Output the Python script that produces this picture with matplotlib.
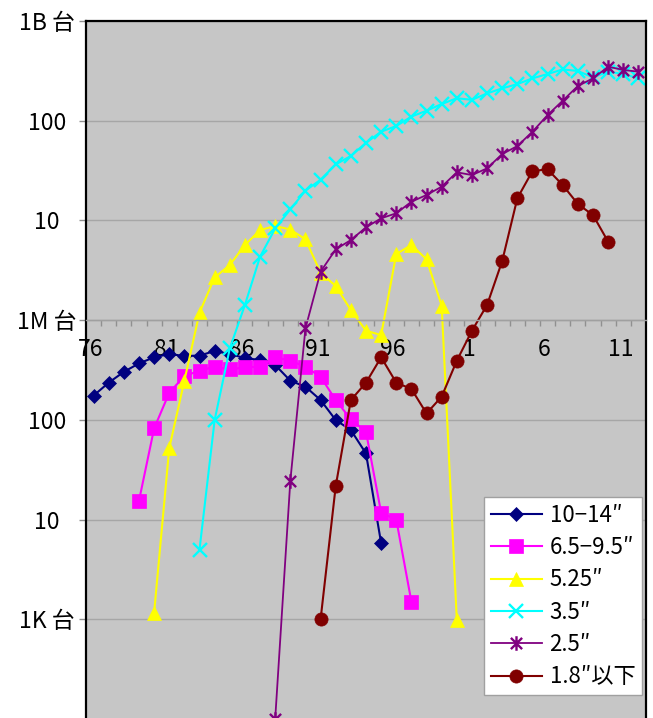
import matplotlib
matplotlib.use("Agg")
import matplotlib.pyplot as plt
import numpy as np
from matplotlib.path import Path

plt.rcParams['font.family'] = ['Noto Sans CJK JP', 'DejaVu Sans']

# ---------------- data ----------------
years = list(range(1976, 2013))           # category axis (37 categories)
xtick_labels = ['76', '81', '86', '91', '96', '1', '6', '11']
xtick_years = [1976, 1981, 1986, 1991, 1996, 2001, 2006, 2011]

ytick_values = [1e3, 1e4, 1e5, 1e6, 1e7, 1e8, 1e9]
ytick_labels = ['1K 台', '10', '100', '1M 台', '10', '100', '1B 台']

s1_start = 1976   # 10-14"
s1 = [175e3, 236e3, 303e3, 368e3, 424e3, 457e3, 437e3, 441e3, 490e3, 457e3,
      417e3, 398e3, 355e3, 247e3, 215e3, 158e3, 99.5e3, 79e3, 46e3, 5.8e3]

s2_start = 1979   # 6.5-9.5"
s2 = [15.4e3, 82e3, 187e3, 275e3, 311e3, 341e3, 321e3, 336e3, 341e3, 424e3,
      392e3, 341e3, 270e3, 158e3, 101e3, 76e3, 11.7e3, 10e3, 1.5e3]

s3_start = 1980   # 5.25"
s3 = [1.16e3, 52e3, 247e3, 1.19e6, 2.68e6, 3.57e6, 5.67e6, 8.0e6, 8.8e6, 8.1e6,
      6.46e6, 2.99e6, 2.2e6, 1.26e6, 783e3, 709e3, 4.6e6, 5.67e6, 4.07e6, 1.40e6,
      0.98e3]

s4_start = 1983   # 3.5"
s4 = [5.0e3, 99.6e3, 520e3, 1.42e6, 4.33e6, 8.3e6, 12.9e6, 19.9e6, 25.6e6, 36.5e6,
      44.3e6, 60e6, 77.6e6, 88.5e6, 110e6, 126e6, 147e6, 168e6, 162e6, 188e6,
      211e6, 233e6, 266e6, 294e6, 327e6, 315e6, 272e6, 310e6, 294e6, 266e6]

s5_start = 1988   # 2.5"
s5 = [100, 24.5e3, 828e3, 3.06e6, 5.13e6, 6.36e6, 8.53e6, 10.5e6, 11.8e6, 15.4e6,
      18e6, 21.8e6, 30.4e6, 28.5e6, 33.3e6, 46.3e6, 55.7e6, 77.6e6, 114e6, 159e6,
      223e6, 266e6, 348e6, 323e6, 310e6]

s6_start = 1991   # 1.8" and below
s6 = [1.0e3, 21.7e3, 158e3, 236e3, 424e3, 236e3, 204e3, 116e3, 171e3, 392e3,
      783e3, 1.42e6, 3.92e6, 16.7e6, 31.3e6, 32.5e6, 22.6e6, 14.6e6, 11.3e6, 6.11e6]

labels = ['10\u221214\u2033', '6.5\u22129.5\u2033', '5.25\u2033', '3.5\u2033',
          '2.5\u2033', '1.8\u2033以下']

# ---------------- figure ----------------
W, H = 653, 718
fig = plt.figure(figsize=(W / 100, H / 100), dpi=100)
ax = fig.add_axes([86 / W, 0, 560 / W, 697 / H])
ax.set_facecolor('#C6C6C6')

ax.set_yscale('log')
ax.set_ylim(10 ** 2.01, 1e9)
ax.set_xlim(-0.5, len(years) - 0.5)

def xpos(start, n):
    return np.arange(n) + years.index(start)

# asterisk marker: X plus vertical bar
star_path = Path(
    [(-1, -1), (1, 1), (-1, 1), (1, -1), (0, -1.3), (0, 1.3)],
    [Path.MOVETO, Path.LINETO, Path.MOVETO, Path.LINETO, Path.MOVETO, Path.LINETO])

series = [
    (s1_start, s1, '#000080', 'D', 7.5, 1.5),
    (s2_start, s2, '#FF00FF', 's', 9.5, 1.5),
    (s3_start, s3, '#FFFF00', '^', 10.5, 1.5),
    (s4_start, s4, '#00FFFF', 'x', 9.5, 1.5),
    (s5_start, s5, '#800080', star_path, 10.5, 1.3),
    (s6_start, s6, '#800000', 'o', 9.5, 1.5),
]

for (start, vals, col, mk, ms, lw), lab in zip(series, labels):
    kw = dict(color=col, lw=lw, marker=mk, markersize=ms, label=lab,
              markerfacecolor=col, markeredgecolor=col, clip_on=True)
    if mk in ('x',) or mk is star_path:
        kw['markeredgewidth'] = 1.7
        kw['markerfacecolor'] = 'none'
    else:
        kw['markeredgewidth'] = 0.5
    ax.plot(xpos(start, len(vals)), vals, **kw)

# grid
ax.set_yticks(ytick_values)
ax.set_yticklabels(ytick_labels)
ax.yaxis.set_minor_locator(matplotlib.ticker.NullLocator())
ax.grid(axis='y', which='major', color='#A6A6A6', lw=1)
ax.set_axisbelow(True)
ax.tick_params(axis='y', which='major', length=5, color='#909090', width=1,
               labelsize=16.5, pad=23)
for t in ax.get_yticklabels():
    t.set_horizontalalignment('center')

# x axis crossing at 1M
ax.spines['bottom'].set_position(('data', 1e6))
ax.spines['bottom'].set_color('#A0A0A0')
ax.spines['bottom'].set_linewidth(1)
for s in ('left', 'top', 'right'):
    ax.spines[s].set_color('black')
    ax.spines[s].set_linewidth(1.6)

ax.set_xticks(np.arange(0.5, len(years) - 0.5, 1))
ax.set_xticklabels([])
ax.set_xticks([years.index(y) - 0.2 for y in xtick_years], minor=True)
ax.set_xticklabels(xtick_labels, minor=True)
ax.tick_params(axis='x', which='major', length=4, color='#909090', width=1,
               direction='out')
ax.tick_params(axis='x', which='minor', length=0, labelsize=16.5, pad=13)

leg = fig.legend(loc='upper right', bbox_to_anchor=(642 / W, 1 - 497 / H),
                 fontsize=16, frameon=True, fancybox=False, framealpha=1,
                 edgecolor='#A0A0A0', handlelength=2.3, handletextpad=0.35,
                 labelspacing=0.42, borderpad=0.3, borderaxespad=0)
leg.get_frame().set_linewidth(1)

fig.savefig('out.png', dpi=100)
